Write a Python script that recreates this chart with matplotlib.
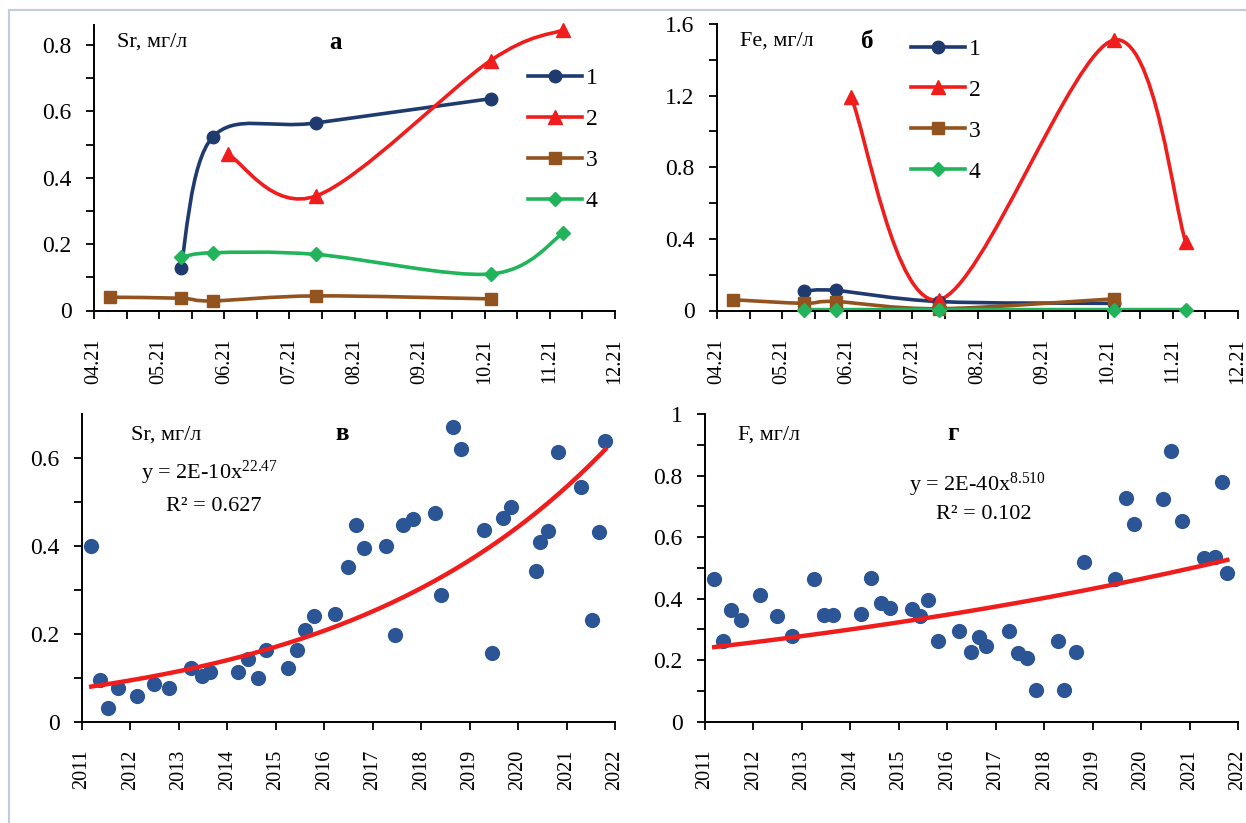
import numpy as np
import matplotlib
matplotlib.use("Agg")
import matplotlib.pyplot as plt
from matplotlib.path import Path
from matplotlib.patches import PathPatch
from matplotlib.lines import Line2D

plt.rcParams['font.family'] = ['Liberation Serif', 'DejaVu Serif']
plt.rcParams['mathtext.fontset'] = 'custom'
plt.rcParams['mathtext.rm'] = 'Liberation Serif'
plt.rcParams['mathtext.it'] = 'Liberation Serif'

# ---- panel а / б : 2021 sampling (x = month number) ----
month_ticks = [4, 5, 6, 7, 8, 9, 10, 11, 12]
month_labels = ['04.21', '05.21', '06.21', '07.21', '08.21', '09.21', '10.21', '11.21', '12.21']

sr_x1 = [5.33, 5.82, 7.41, 10.09]
sr_y1 = [0.127, 0.522, 0.565, 0.638]
sr_x2 = [6.06, 7.41, 10.09, 11.2]
sr_y2 = [0.47, 0.345, 0.753, 0.845]
sr_x3 = [4.25, 5.33, 5.82, 7.41, 10.09]
sr_y3 = [0.04, 0.037, 0.029, 0.044, 0.035]
sr_x4 = [5.33, 5.82, 7.41, 10.09, 11.2]
sr_y4 = [0.16, 0.174, 0.169, 0.11, 0.232]

fe_x1 = [5.33, 5.82, 7.41, 10.09]
fe_y1 = [0.108, 0.112, 0.05, 0.04]
fe_x2 = [6.06, 7.41, 10.09, 11.2]
fe_y2 = [1.19, 0.06, 1.51, 0.38]
fe_x3 = [4.25, 5.33, 5.82, 7.41, 10.09]
fe_y3 = [0.06, 0.04, 0.05, 0.01, 0.065]
fe_x4 = [5.33, 5.82, 7.41, 10.09, 11.2]
fe_y4 = [0.005, 0.005, 0.005, 0.005, 0.005]

# ---- panel в / г : long-term data (x = decimal year) ----
sr_years = [2011.19, 2011.38, 2011.54, 2011.74, 2012.13, 2012.48, 2012.79, 2013.24, 2013.47, 2013.65,
            2014.22, 2014.43, 2014.63, 2014.80, 2015.25, 2015.43, 2015.60, 2015.78, 2016.23, 2016.48,
            2016.65, 2016.81, 2017.28, 2017.45, 2017.63, 2017.83, 2018.29, 2018.41, 2018.65, 2018.82,
            2019.29, 2019.46, 2019.68, 2019.85, 2020.36, 2020.46, 2020.62, 2020.83, 2021.30, 2021.52,
            2021.66, 2021.80]
sr_vals = [0.399, 0.095, 0.032, 0.077, 0.058, 0.086, 0.077, 0.122, 0.103, 0.112,
           0.112, 0.142, 0.099, 0.162, 0.123, 0.162, 0.209, 0.241, 0.245, 0.352,
           0.448, 0.395, 0.399, 0.197, 0.448, 0.462, 0.475, 0.289, 0.671, 0.621,
           0.437, 0.157, 0.463, 0.488, 0.343, 0.409, 0.433, 0.614, 0.534, 0.232,
           0.432, 0.638]
sr_exponent = 22.47

f_years = [2011.19, 2011.38, 2011.53, 2011.75, 2012.13, 2012.48, 2012.79, 2013.24, 2013.45, 2013.65,
           2014.22, 2014.43, 2014.63, 2014.81, 2015.27, 2015.43, 2015.60, 2015.80, 2016.24, 2016.48,
           2016.65, 2016.79, 2017.28, 2017.45, 2017.65, 2017.83, 2018.29, 2018.41, 2018.65, 2018.82,
           2019.46, 2019.69, 2019.85, 2020.46, 2020.62, 2020.84, 2021.30, 2021.52, 2021.67, 2021.78]
f_vals = [0.464, 0.262, 0.363, 0.330, 0.412, 0.343, 0.278, 0.463, 0.347, 0.347,
          0.349, 0.468, 0.385, 0.368, 0.365, 0.343, 0.395, 0.262, 0.296, 0.228,
          0.276, 0.246, 0.295, 0.222, 0.206, 0.103, 0.262, 0.103, 0.228, 0.520,
          0.464, 0.726, 0.641, 0.723, 0.881, 0.652, 0.533, 0.536, 0.780, 0.482]
f_exponent = 8.510

year_ticks = list(range(2011, 2023))

NAVY = '#1f3a6e'
RED = '#f01d1d'
BROWN = '#93531f'
GREEN = '#21b45a'
DOT = '#2c5595'


def smooth_line(ax, xs, ys, color):
    # Excel-style smoothed line: cubic Bezier through the points
    pts = np.column_stack([xs, ys]).astype(float)
    n = len(pts)
    verts = [pts[0]]
    codes = [Path.MOVETO]
    for i in range(n - 1):
        p0 = pts[i - 1] if i > 0 else pts[i]
        p1, p2 = pts[i], pts[i + 1]
        p3 = pts[i + 2] if i + 2 < n else pts[i + 1]
        verts += [p1 + (p2 - p0) / 6, p2 - (p3 - p1) / 6, p2]
        codes += [Path.CURVE4] * 3
    ax.add_patch(PathPatch(Path(verts, codes), facecolor='none', edgecolor=color,
                           lw=2.6, capstyle='round', joinstyle='round', zorder=2))


def style_axes(ax):
    for s in ['top', 'right']:
        ax.spines[s].set_visible(False)
    for s in ['left', 'bottom']:
        ax.spines[s].set_linewidth(1.4)
    ax.tick_params(which='both', direction='out', length=6, width=1.3, color='black')
    ax.tick_params(axis='y', which='major', labelsize=17, pad=10)
    ax.tick_params(axis='x', which='major', labelsize=14.5, pad=14, labelrotation=90)


series_style = [(NAVY, 'o', 9), (RED, '^', 10.5), (BROWN, 's', 9), (GREEN, 'D', 7.5)]

fig = plt.figure(figsize=(12.46, 8.23), dpi=100)

# figure frame (top and left edges visible)
fig.add_artist(Line2D([9 / 1246, 1], [1 - 10 / 823, 1 - 10 / 823], color='#c3cbdf', lw=1.5))
fig.add_artist(Line2D([9 / 1246, 9 / 1246], [0, 1 - 10 / 823], color='#c3cbdf', lw=1.5))

ax_a = fig.add_axes([94 / 1246, 1 - 310.5 / 823, 521 / 1246, 285.5 / 823])
ax_b = fig.add_axes([717 / 1246, 1 - 310.5 / 823, 521 / 1246, 286.5 / 823])
ax_c = fig.add_axes([82 / 1246, 1 - 721.7 / 823, 533 / 1246, 307.7 / 823])
ax_d = fig.add_axes([705 / 1246, 1 - 721.7 / 823, 533 / 1246, 307.7 / 823])

panels = [
    (ax_a, [(sr_x1, sr_y1), (sr_x2, sr_y2), (sr_x3, sr_y3), (sr_x4, sr_y4)], 0.86,
     [0, 0.2, 0.4, 0.6, 0.8], ['0', '0.2', '0.4', '0.6', '0.8'], 0.1,
     'Sr, мг/л', 0.044, 'а', 0.464, (0.833, 0.85)),
    (ax_b, [(fe_x1, fe_y1), (fe_x2, fe_y2), (fe_x3, fe_y3), (fe_x4, fe_y4)], 1.6,
     [0, 0.4, 0.8, 1.2, 1.6], ['0', '0.4', '0.8', '1.2', '1.6'], 0.2,
     'Fe, мг/л', 0.044, 'б', 0.288, (0.372, 0.95)),
]

for ax, series, ytop, yt, ytl, yminor, name, name_x, letter, letter_x, leg_pos in panels:
    handles = []
    for (xs, ys), (c, m, ms) in zip(series, series_style):
        smooth_line(ax, xs, ys, c)
        ax.plot(xs, ys, linestyle='none', marker=m, ms=ms, color=c, zorder=3, clip_on=False)
        handles.append(Line2D([], [], color=c, lw=2.6, marker=m, ms=ms))
    ax.set_xlim(4, 12)
    ax.set_ylim(0, ytop)
    ax.set_xticks(month_ticks)
    ax.set_xticklabels(month_labels)
    ax.set_xticks(np.arange(4.5, 12, 1), minor=True)
    ax.set_yticks(yt)
    ax.set_yticklabels(ytl)
    ax.set_yticks(np.arange(yminor, ytop, yminor * 2), minor=True)
    style_axes(ax)
    ax.text(name_x, 0.94, name, transform=ax.transAxes, fontsize=16, va='center', ha='left')
    ax.text(letter_x, 0.94, letter, transform=ax.transAxes, fontsize=18, fontweight='bold',
            va='center', ha='center')
    ax.legend(handles, ['1', '2', '3', '4'], loc='upper left', bbox_to_anchor=leg_pos,
              frameon=False, fontsize=17, handlelength=2.3, handletextpad=0.15,
              labelspacing=0.82, borderpad=0, borderaxespad=0)


def to_serial(years):
    # Excel serial date number, used by the power trendline
    return (np.asarray(years) - 1900) * 365.25 + 1


scatter_panels = [
    (ax_c, sr_years, sr_vals, sr_exponent, 0.7, [0, 0.2, 0.4, 0.6], ['0', '0.2', '0.4', '0.6'],
     'Sr, мг/л', 0.092, 'в', 0.488, 'y = 2E-10x$^{22.47}$', (0.111, 0.808), 'R² = 0.627', (0.158, 0.698)),
    (ax_d, f_years, f_vals, f_exponent, 1.0, [0, 0.2, 0.4, 0.6, 0.8, 1.0], ['0', '0.2', '0.4', '0.6', '0.8', '1'],
     'F, мг/л', 0.062, 'г', 0.465, 'y = 2E-40x$^{8.510}$', (0.383, 0.769), 'R² = 0.102', (0.433, 0.672)),
]

for ax, yrs, vals, b, ytop, yt, ytl, name, name_x, letter, letter_x, eq, eq_pos, r2, r2_pos in scatter_panels:
    ax.scatter(yrs, vals, s=120, color=DOT, zorder=2, clip_on=False, linewidths=0)
    # power trendline (exponent from the chart label), scale fitted in log space on serial dates
    lx = np.log(to_serial(yrs))
    loga = np.mean(np.log(vals) - b * lx)
    xfit = np.linspace(min(yrs), max(yrs), 200)
    ax.plot(xfit, np.exp(loga) * to_serial(xfit) ** b, color=RED, lw=3.2, zorder=3)
    ax.set_xlim(2011, 2022)
    ax.set_ylim(0, ytop)
    ax.set_xticks(year_ticks)
    ax.set_xticklabels([str(y) for y in year_ticks])
    ax.set_yticks(yt)
    ax.set_yticklabels(ytl)
    ax.set_yticks(np.arange(0.1, ytop, 0.2), minor=True)
    style_axes(ax)
    ax.text(name_x, 0.932, name, transform=ax.transAxes, fontsize=16, va='center', ha='left')
    ax.text(letter_x, 0.938, letter, transform=ax.transAxes, fontsize=18, fontweight='bold',
            va='center', ha='center')
    ax.text(eq_pos[0], eq_pos[1], eq, transform=ax.transAxes, fontsize=16, va='center', ha='left')
    ax.text(r2_pos[0], r2_pos[1], r2, transform=ax.transAxes, fontsize=16, va='center', ha='left')

fig.savefig('out.png', dpi=100)
